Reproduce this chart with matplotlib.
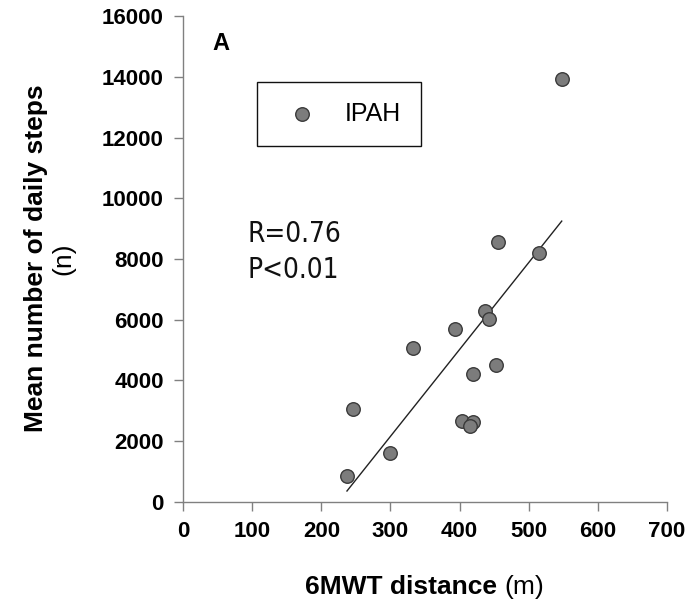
import numpy as np
import matplotlib
matplotlib.use("Agg")
import matplotlib.pyplot as plt

# Data
walk_distance = [237, 246, 300, 332, 394, 437, 442, 453, 420, 404, 420, 415, 548, 456, 515]
daily_steps = [850, 3050, 1600, 5080, 5700, 6290, 6030, 4500, 4200, 2650, 2630, 2500, 13950, 8560, 8200]
x_ticks = [0, 100, 200, 300, 400, 500, 600, 700]
y_ticks = [0, 2000, 4000, 6000, 8000, 10000, 12000, 14000, 16000]
series_name = "IPAH"
stats_lines = ["R=0.76", "P<0.01"]

W, H, DPI = 688, 603, 100
fig = plt.figure(figsize=(W / DPI, H / DPI), dpi=DPI)
ax = fig.add_axes([183.3 / W, 1 - 501.7 / H, (666.7 - 183.3) / W, (501.7 - 16.4) / H])

SANS = ["Liberation Sans", "Arial", "DejaVu Sans"]

ax.scatter(walk_distance, daily_steps, s=95, facecolor="#7c7c7c", edgecolor="#3a3a3a",
           linewidth=1.0, zorder=3, label=series_name)

# least-squares regression line
xs = np.array(walk_distance, dtype=float)
ys = np.array(daily_steps, dtype=float)
slope, intercept = np.polyfit(xs, ys, 1)
xl = np.array([xs.min(), xs.max()])
ax.plot(xl, slope * xl + intercept, color="#222222", linewidth=1.0, zorder=2)

ax.set_xlim(0, 700)
ax.set_ylim(0, 16000)
ax.set_xticks(x_ticks)
ax.set_yticks(y_ticks)
ax.set_xticklabels([str(v) for v in x_ticks], family=SANS, fontweight="bold", fontsize=16)
ax.set_yticklabels([str(v) for v in y_ticks], family=SANS, fontweight="bold", fontsize=16)
for s in ["top", "right"]:
    ax.spines[s].set_visible(False)
for s in ["left", "bottom"]:
    ax.spines[s].set_color("#808080")
    ax.spines[s].set_linewidth(1.0)
ax.tick_params(axis="both", direction="out", length=6.5, width=1.0, color="#808080", pad=7.5)
ax.patch.set_alpha(0)

leg = ax.legend(loc="upper left", bbox_to_anchor=(0.152, 0.865), borderaxespad=0,
                frameon=True, fancybox=False, edgecolor="#111111", framealpha=1,
                prop={"family": SANS, "size": 18}, borderpad=0.8, handlelength=2.0,
                handletextpad=0.72, markerscale=1.0)
leg.get_frame().set_linewidth(1.0)

ax.text(0.061, 0.931, "A", transform=ax.transAxes, family=SANS, fontweight="bold",
        fontsize=17, va="baseline", ha="left")

ax.text(0.132, 0.535, stats_lines[0], transform=ax.transAxes, family=["DejaVu Sans"],
        fontstretch="condensed", fontweight="light", fontsize=20, va="baseline", ha="left",
        color="#111111")
ax.text(0.132, 0.461, stats_lines[1], transform=ax.transAxes, family=["DejaVu Sans"],
        fontstretch="condensed", fontweight="light", fontsize=20, va="baseline", ha="left",
        color="#111111")

# y label: bold first line, regular second line
fig.text(36.5 / W, 1 - 258.5 / H, "Mean number of daily steps", rotation=90, family=SANS,
         fontweight="bold", fontsize=19, ha="center", va="center")
fig.text(63.5 / W, 1 - 259 / H, "(n)", rotation=90, family=SANS,
         fontsize=19, ha="center", va="center")

# x label: bold part + regular unit
fig.canvas.draw()
renderer = fig.canvas.get_renderer()
t1 = fig.text(0, 1 - 587 / H, "6MWT distance ", family=SANS, fontweight="bold",
              fontsize=19, ha="left", va="center")
t2 = fig.text(0, 1 - 587 / H, "(m)", family=SANS, fontsize=19, ha="left", va="center")
w1 = t1.get_window_extent(renderer).width
w2 = t2.get_window_extent(renderer).width
cx = 424.5
start = cx - (w1 + w2) / 2
t1.set_x(start / W)
t2.set_x((start + w1) / W)

fig.savefig("out.png", dpi=DPI)
